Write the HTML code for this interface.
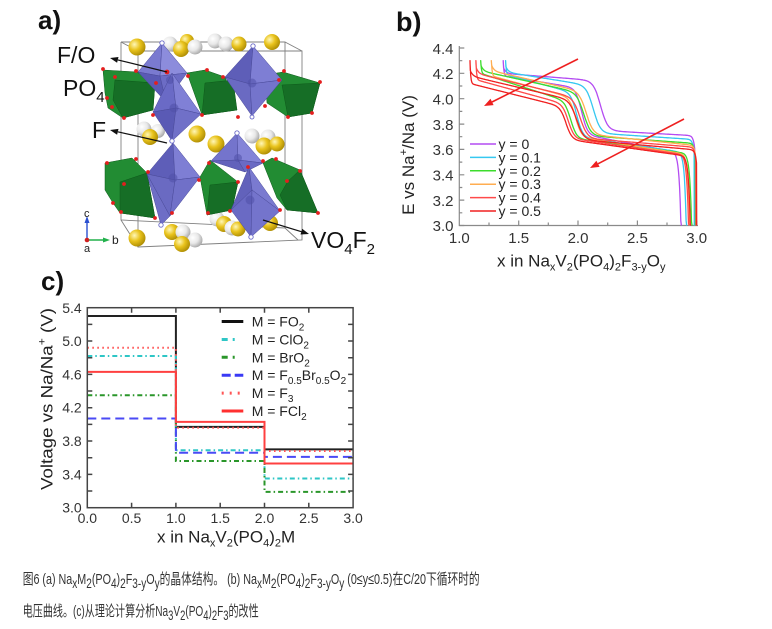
<!DOCTYPE html>
<html><head><meta charset="utf-8"><style>
html,body{margin:0;padding:0;background:#fff;}
svg{display:block;font-family:"Liberation Sans","Noto Sans CJK SC",sans-serif;}
</style></head><body>
<svg width="772" height="629" viewBox="0 0 772 629" xmlns="http://www.w3.org/2000/svg">
<defs>
<radialGradient id="gy" cx="0.35" cy="0.35" r="0.75"><stop offset="0" stop-color="#fff7b8"/><stop offset="0.45" stop-color="#e9c31c"/><stop offset="1" stop-color="#a48400"/></radialGradient>
<radialGradient id="gw" cx="0.35" cy="0.35" r="0.75"><stop offset="0" stop-color="#ffffff"/><stop offset="0.5" stop-color="#e8e8e8"/><stop offset="1" stop-color="#9c9c9c"/></radialGradient>
</defs>
<rect width="772" height="629" fill="#fff"/>

<!-- ========== PANEL A ========== -->
<text x="38" y="29" font-size="26" font-weight="bold" fill="#111">a)</text>
<g stroke="#808080" stroke-width="0.9" fill="none">
<path d="M121,42 H285 V228 M121,42 V220 L285,228"/>
<path d="M138,51 H302 V240 L138,247 Z"/>
<path d="M121,42 L138,51 M285,42 L302,51 M121,220 L138,247 M285,228 L298,240"/>
</g>
<g>
<circle cx="137" cy="47" r="8.5" fill="url(#gy)"/>
<circle cx="170" cy="44" r="7.5" fill="url(#gw)"/>
<circle cx="187" cy="41" r="7" fill="url(#gy)"/>
<circle cx="181" cy="49" r="8" fill="url(#gy)"/>
<circle cx="195" cy="47" r="7.5" fill="url(#gw)"/>
<circle cx="215" cy="41" r="7.5" fill="url(#gw)"/>
<circle cx="226" cy="44" r="7.5" fill="url(#gw)"/>
<circle cx="239" cy="44" r="7.5" fill="url(#gy)"/>
<circle cx="272" cy="42" r="8" fill="url(#gy)"/>
<circle cx="144" cy="129" r="7.5" fill="url(#gw)"/>
<circle cx="158" cy="131" r="7" fill="url(#gw)"/>
<circle cx="150" cy="137" r="8" fill="url(#gy)"/>
<circle cx="197" cy="134" r="8.5" fill="url(#gy)"/>
<circle cx="216" cy="144" r="8.5" fill="url(#gy)"/>
<circle cx="252" cy="136" r="7.5" fill="url(#gw)"/>
<circle cx="268" cy="137" r="7.5" fill="url(#gw)"/>
<circle cx="264" cy="146" r="8.5" fill="url(#gy)"/>
<circle cx="277" cy="144" r="7.5" fill="url(#gy)"/>
<circle cx="217" cy="219" r="7.5" fill="url(#gw)"/>
<circle cx="224" cy="224" r="8" fill="url(#gy)"/>
<circle cx="232" cy="228" r="7.5" fill="url(#gw)"/>
<circle cx="238" cy="229" r="7.5" fill="url(#gy)"/>
<circle cx="270" cy="223" r="8" fill="url(#gy)"/>
<circle cx="172" cy="232" r="8" fill="url(#gy)"/>
<circle cx="183" cy="232" r="7.5" fill="url(#gw)"/>
<circle cx="195" cy="240" r="7.5" fill="url(#gw)"/>
<circle cx="182" cy="244" r="8" fill="url(#gy)"/>
<circle cx="137" cy="238" r="8.5" fill="url(#gy)"/>
</g>
<g stroke="#0d5a1a" stroke-width="0.5">
<polygon points="103,70 137,72 155,83 153,110 123,118 108,108 105,93" fill="#228c33"/>
<polygon points="115,80 155,83 153,110 123,118 113,100" fill="#166e26"/>
<polygon points="187,73 205,70 225,77 237,110 202,115" fill="#228c33"/>
<polygon points="205,83 233,80 237,110 202,115" fill="#166e26"/>
<polygon points="265,75 283,72 320,83 312,113 288,117 267,103" fill="#228c33"/>
<polygon points="282,85 320,83 312,113 288,117" fill="#166e26"/>
<polygon points="105,163 132,158 147,173 155,218 120,213 113,203 105,190" fill="#228c33"/>
<polygon points="120,182 147,173 155,218 120,213" fill="#166e26"/>
<polygon points="200,177 210,160 238,182 232,210 207,215" fill="#228c33"/>
<polygon points="210,185 238,182 232,210 207,215" fill="#166e26"/>
<polygon points="263,163 272,158 300,170 318,213 287,210 277,198" fill="#228c33"/>
<polygon points="288,181 300,170 318,213 287,210 280,195" fill="#166e26"/>
</g>
<g stroke="#4a4a9a" stroke-width="0.5">
<g><polygon points="162,43 138,72 160,76" fill="#7a7ad0"/><polygon points="162,43 160,76 187,73" fill="#8c8cdc"/><polygon points="138,72 166,102 160,76" fill="#5a5ab5"/><polygon points="160,76 187,73 166,102" fill="#6c6cc5"/></g>
<g><polygon points="172,73 153,112 176,108" fill="#6a6ac6"/><polygon points="172,73 176,108 201,114" fill="#8080d6"/><polygon points="153,112 172,141 176,108" fill="#5a5ab5"/><polygon points="176,108 201,114 172,141" fill="#7070c8"/></g>
<g><polygon points="253,46 225,77 250,84" fill="#5e5eb8"/><polygon points="253,46 250,84 282,80" fill="#7e7ed4"/><polygon points="225,77 252,116 250,84" fill="#6a6ac2"/><polygon points="250,84 282,80 252,116" fill="#7474cc"/></g>
<g><polygon points="237,133 211,161 238,160" fill="#7474cc"/><polygon points="237,133 238,160 263,163" fill="#8484d8"/><polygon points="211,161 245,172 238,160" fill="#6262bb"/><polygon points="238,160 263,163 245,172" fill="#6a6ac4"/></g>
<g><polygon points="147,174 161,225 170,216" fill="#6e6ec6"/><polygon points="173,143 147,174 175,180" fill="#5e5eb8"/><polygon points="173,143 175,180 200,177" fill="#7e7ed4"/><polygon points="147,174 170,216 175,180" fill="#6a6ac2"/><polygon points="175,180 200,177 170,216" fill="#7070c8"/></g>
<g><polygon points="249,167 231,210 252,190" fill="#6262bb"/><polygon points="249,167 252,190 280,211" fill="#7a7ad0"/><polygon points="231,210 251,237 252,190" fill="#6a6ac4"/><polygon points="252,190 280,211 251,237" fill="#7474cc"/></g>
</g>
<g fill="#5050a8" opacity="0.55">
<circle cx="170" cy="80" r="4"/><circle cx="174" cy="108" r="4.5"/><circle cx="252" cy="83" r="4.5"/><circle cx="238" cy="158" r="4"/><circle cx="173" cy="178" r="4.5"/><circle cx="250" cy="200" r="4.5"/>
</g>
<g fill="#e41e1e">
<circle cx="103" cy="69" r="1.9"/><circle cx="115" cy="77" r="1.9"/><circle cx="136" cy="71" r="1.9"/><circle cx="156" cy="83" r="1.9"/><circle cx="188" cy="76" r="1.9"/><circle cx="207" cy="70" r="1.9"/><circle cx="223" cy="77" r="1.9"/><circle cx="107" cy="98" r="1.9"/><circle cx="112" cy="107" r="1.9"/><circle cx="124" cy="118" r="1.9"/><circle cx="153" cy="115" r="1.9"/><circle cx="202" cy="115" r="1.9"/><circle cx="238" cy="117" r="1.9"/><circle cx="265" cy="106" r="1.9"/><circle cx="279" cy="80" r="1.9"/><circle cx="284" cy="71" r="1.9"/><circle cx="320" cy="82" r="1.9"/><circle cx="288" cy="117" r="1.9"/><circle cx="312" cy="113" r="1.9"/><circle cx="167" cy="72" r="2.4"/>
<circle cx="107" cy="163" r="1.9"/><circle cx="136" cy="159" r="1.9"/><circle cx="148" cy="172" r="1.9"/><circle cx="124" cy="184" r="1.9"/><circle cx="113" cy="203" r="1.9"/><circle cx="121" cy="212" r="1.9"/><circle cx="155" cy="218" r="1.9"/><circle cx="172" cy="213" r="1.9"/><circle cx="199" cy="180" r="1.9"/><circle cx="209" cy="163" r="1.9"/><circle cx="238" cy="182" r="1.9"/><circle cx="208" cy="213" r="1.9"/><circle cx="230" cy="211" r="1.9"/><circle cx="248" cy="167" r="1.9"/><circle cx="263" cy="161" r="1.9"/><circle cx="276" cy="159" r="1.9"/><circle cx="287" cy="181" r="1.9"/><circle cx="300" cy="171" r="1.9"/><circle cx="318" cy="213" r="1.9"/><circle cx="280" cy="210" r="1.9"/>
</g>
<g fill="#fff" stroke="#6a6ac8" stroke-width="0.9">
<circle cx="162" cy="43" r="2.2"/><circle cx="253" cy="46" r="2.2"/><circle cx="172" cy="141" r="2.2"/><circle cx="237" cy="133" r="2.2"/><circle cx="161" cy="225" r="2.2"/><circle cx="251" cy="237" r="2.2"/><circle cx="252" cy="117" r="2"/>
</g>
<line x1="87" y1="240" x2="87" y2="222" stroke="#2a4fd0" stroke-width="1.4"/>
<polygon points="87,216 84.5,223 89.5,223" fill="#2a4fd0"/>
<line x1="87" y1="240" x2="105" y2="240" stroke="#22b14c" stroke-width="1.4"/>
<polygon points="110,240 103,237.5 103,242.5" fill="#22b14c"/>
<circle cx="87" cy="240" r="2.3" fill="#d02020"/>
<text x="84" y="217" font-size="11" fill="#222">c</text>
<text x="112" y="244" font-size="12" fill="#222">b</text>
<text x="84" y="252" font-size="11" fill="#222">a</text>
<g stroke="#111" stroke-width="1.2"><line x1="167" y1="72" x2="117.8" y2="59.9"/><line x1="167" y1="143" x2="117.8" y2="131.8"/><line x1="263" y1="220" x2="301.4" y2="231.7"/></g>
<g fill="#111"><polygon points="110,58 118.5,57 117.1,62.8"/><polygon points="110,130 118.5,128.9 117.1,134.7"/><polygon points="309,234 300.5,234.5 302.2,228.8"/></g>
<g font-size="23" fill="#111">
<text x="57" y="63">F/O</text>
<text x="63" y="96">PO<tspan font-size="15" dy="6">4</tspan></text>
<text x="92" y="138">F</text>
<text x="311" y="248">VO<tspan font-size="15" dy="6">4</tspan><tspan dy="-6">F</tspan><tspan font-size="15" dy="6">2</tspan></text>
</g>

<!-- ========== PANEL B ========== -->
<text x="396" y="31" font-size="27" font-weight="bold" fill="#111">b)</text>
<g stroke="#8a8a8a" stroke-width="1.2" fill="none">
<path d="M459.3,46 V225.5 H698"/>
<path d="M459.3,225.5 h5 M459.3,200.1 h5 M459.3,174.8 h5 M459.3,149.4 h5 M459.3,124.1 h5 M459.3,98.7 h5 M459.3,73.3 h5 M459.3,48 h5"/>
<path d="M459.3,212.8 h3 M459.3,187.5 h3 M459.3,162.1 h3 M459.3,136.7 h3 M459.3,111.4 h3 M459.3,86 h3 M459.3,60.7 h3"/>
<path d="M518.7,225.5 v-5 M578,225.5 v-5 M637.4,225.5 v-5 M696.7,225.5 v-5 M489,225.5 v-3 M548.3,225.5 v-3 M607.7,225.5 v-3 M667,225.5 v-3"/>
</g>
<g font-size="15" fill="#333" text-anchor="end">
<text x="453.5" y="54">4.4</text><text x="453.5" y="79">4.2</text><text x="453.5" y="104.5">4.0</text><text x="453.5" y="130">3.8</text><text x="453.5" y="155">3.6</text><text x="453.5" y="180.5">3.4</text><text x="453.5" y="206">3.2</text><text x="453.5" y="231">3.0</text>
</g>
<g font-size="15" fill="#333" text-anchor="middle">
<text x="459.3" y="243">1.0</text><text x="518.7" y="243">1.5</text><text x="578" y="243">2.0</text><text x="637.4" y="243">2.5</text><text x="696.7" y="243">3.0</text>
</g>
<text transform="translate(408,155) rotate(-90)" x="0" y="6" font-size="17" fill="#222" text-anchor="middle">E vs Na<tspan font-size="11" dy="-7">+</tspan><tspan dy="7">/Na (V)</tspan></text>
<text x="497" y="266.5" font-size="17" fill="#222">x in Na<tspan font-size="11" dy="4">x</tspan><tspan dy="-4">V</tspan><tspan font-size="11" dy="4">2</tspan><tspan dy="-4">(PO</tspan><tspan font-size="11" dy="4">4</tspan><tspan dy="-4">)</tspan><tspan font-size="11" dy="4">2</tspan><tspan dy="-4">F</tspan><tspan font-size="11" dy="4">3-y</tspan><tspan dy="-4">O</tspan><tspan font-size="11" dy="4">y</tspan></text>
<g id="curves" fill="none" stroke-width="1.3" stroke-linejoin="round"></g>
<g stroke-width="1.5">
<line x1="470" y1="144" x2="496" y2="144" stroke="#b44cf2"/>
<line x1="470" y1="157.4" x2="496" y2="157.4" stroke="#35c8f0"/>
<line x1="470" y1="170.8" x2="496" y2="170.8" stroke="#3cdc2c"/>
<line x1="470" y1="184.2" x2="496" y2="184.2" stroke="#ffad50"/>
<line x1="470" y1="197.6" x2="496" y2="197.6" stroke="#ff4a4a"/>
<line x1="470" y1="211" x2="496" y2="211" stroke="#f02020"/>
</g>
<g font-size="14" fill="#222">
<text x="498.5" y="149">y = 0</text><text x="498.5" y="162.4">y = 0.1</text><text x="498.5" y="175.8">y = 0.2</text><text x="498.5" y="189.2">y = 0.3</text><text x="498.5" y="202.6">y = 0.4</text><text x="498.5" y="216">y = 0.5</text>
</g>
<g stroke="#ee2020" stroke-width="1.6"><line x1="578" y1="59" x2="492" y2="102"/><line x1="684" y1="119" x2="598" y2="163.8"/></g>
<g fill="#ee2020"><polygon points="484,106 493.6,105.1 490.5,98.8"/><polygon points="590,168 599.6,166.9 596.4,160.7"/></g>

<!-- ========== PANEL C ========== -->
<text x="41" y="290" font-size="26" font-weight="bold" fill="#111">c)</text>
<g font-size="14" fill="#333" text-anchor="end">
<text x="81.7" y="313">5.4</text><text x="81.7" y="346">5.0</text><text x="81.7" y="379.4">4.6</text><text x="81.7" y="412.7">4.2</text><text x="81.7" y="446">3.8</text><text x="81.7" y="479.4">3.4</text><text x="81.7" y="512.7">3.0</text>
</g>
<g font-size="14" fill="#333" text-anchor="middle">
<text x="87.3" y="523">0.0</text><text x="131.6" y="523">0.5</text><text x="175.9" y="523">1.0</text><text x="220.2" y="523">1.5</text><text x="264.5" y="523">2.0</text><text x="308.8" y="523">2.5</text><text x="353.1" y="523">3.0</text>
</g>
<text transform="translate(46.7,399) rotate(-90)" x="0" y="6" font-size="17" fill="#222" text-anchor="middle" textLength="182" lengthAdjust="spacingAndGlyphs">Voltage vs Na/Na<tspan font-size="11" dy="-7">+</tspan><tspan dy="7"> (V)</tspan></text>
<text x="157" y="542.5" font-size="17" fill="#222">x in Na<tspan font-size="11" dy="4">x</tspan><tspan dy="-4">V</tspan><tspan font-size="11" dy="4">2</tspan><tspan dy="-4">(PO</tspan><tspan font-size="11" dy="4">4</tspan><tspan dy="-4">)</tspan><tspan font-size="11" dy="4">2</tspan><tspan dy="-4">M</tspan></text>
<g fill="none" stroke-width="2">
<path d="M87.3,316 H175.9 V426.9 H264.5 V449.4 H353.1" stroke="#222"/>
<path d="M87.3,356 H175.9 V450.2 H264.5 V478.5 H353.1" stroke="#2ec6c6" stroke-dasharray="5,3,1.5,3"/>
<path d="M87.3,395.2 H175.9 V461 H264.5 V491.9 H353.1" stroke="#2a962a" stroke-dasharray="5,3,1.5,3"/>
<path d="M87.3,418.5 H175.9 V452.7 H264.5 V456.9 H353.1" stroke="#4a4af5" stroke-dasharray="9,5"/>
<path d="M87.3,347.7 H175.9 V427.7 H264.5 V451 H353.1" stroke="#ff5555" stroke-dasharray="1.6,3.4"/>
<path d="M87.3,371.9 H175.9 V421.9 H264.5 V463.5 H353.1" stroke="#ff4040"/>
</g>
<g stroke="#444" stroke-width="1.5" fill="none">
<rect x="87.3" y="307.7" width="265.8" height="200"/>
<path d="M131.6,507.7 v-5 M175.9,507.7 v-5 M220.2,507.7 v-5 M264.5,507.7 v-5 M308.8,507.7 v-5 M131.6,307.7 v5 M175.9,307.7 v5 M220.2,307.7 v5 M264.5,307.7 v5 M308.8,307.7 v5"/>
<path d="M87.3,491 h5 M87.3,474.4 h5 M87.3,457.7 h5 M87.3,441 h5 M87.3,424.4 h5 M87.3,407.7 h5 M87.3,391 h5 M87.3,374.4 h5 M87.3,357.7 h5 M87.3,341 h5 M87.3,324.4 h5"/>
<path d="M353.1,491 h-5 M353.1,474.4 h-5 M353.1,457.7 h-5 M353.1,441 h-5 M353.1,424.4 h-5 M353.1,407.7 h-5 M353.1,391 h-5 M353.1,374.4 h-5 M353.1,357.7 h-5 M353.1,341 h-5 M353.1,324.4 h-5"/>
</g>
<g stroke-width="3" fill="none">
<line x1="221.7" y1="321.5" x2="243.3" y2="321.5" stroke="#111"/>
<line x1="221.7" y1="339.5" x2="243.3" y2="339.5" stroke="#2ec6c6" stroke-dasharray="6,5,2,20"/>
<line x1="221.7" y1="357.3" x2="243.3" y2="357.3" stroke="#2a962a" stroke-dasharray="6,5,2,20"/>
<line x1="221.7" y1="375.2" x2="243.3" y2="375.2" stroke="#3a3af5" stroke-dasharray="9,4"/>
<line x1="221.7" y1="393.1" x2="243.3" y2="393.1" stroke="#ff5555" stroke-dasharray="2,6"/>
<line x1="221.7" y1="411" x2="243.3" y2="411" stroke="#ff3030"/>
</g>
<g font-size="14" fill="#222">
<text x="251.7" y="326.5">M = FO<tspan font-size="10" dy="4">2</tspan></text>
<text x="251.7" y="344.5">M = ClO<tspan font-size="10" dy="4">2</tspan></text>
<text x="251.7" y="362.3">M = BrO<tspan font-size="10" dy="4">2</tspan></text>
<text x="251.7" y="380.2">M = F<tspan font-size="10" dy="4">0.5</tspan><tspan dy="-4">Br</tspan><tspan font-size="10" dy="4">0.5</tspan><tspan dy="-4">O</tspan><tspan font-size="10" dy="4">2</tspan></text>
<text x="251.7" y="398.1">M = F<tspan font-size="10" dy="4">3</tspan></text>
<text x="251.7" y="416">M = FCl<tspan font-size="10" dy="4">2</tspan></text>
</g>

<!-- ========== CAPTION ========== -->
<g font-size="15" fill="#333">
<text x="22.7" y="584" textLength="457" lengthAdjust="spacingAndGlyphs">图6 (a) Na<tspan font-size="14" dy="4">x</tspan><tspan dy="-4">M</tspan><tspan font-size="14" dy="4">2</tspan><tspan dy="-4">(PO</tspan><tspan font-size="14" dy="4">4</tspan><tspan dy="-4">)</tspan><tspan font-size="14" dy="4">2</tspan><tspan dy="-4">F</tspan><tspan font-size="14" dy="4">3-y</tspan><tspan dy="-4">O</tspan><tspan font-size="14" dy="4">y</tspan><tspan dy="-4">的晶体结构。 (b) Na</tspan><tspan font-size="14" dy="4">x</tspan><tspan dy="-4">M</tspan><tspan font-size="14" dy="4">2</tspan><tspan dy="-4">(PO</tspan><tspan font-size="14" dy="4">4</tspan><tspan dy="-4">)</tspan><tspan font-size="14" dy="4">2</tspan><tspan dy="-4">F</tspan><tspan font-size="14" dy="4">3-y</tspan><tspan dy="-4">O</tspan><tspan font-size="14" dy="4">y</tspan><tspan dy="-4"> (0≤y≤0.5)在C/20下循环时的</tspan></text>
<text x="22.7" y="616" textLength="236" lengthAdjust="spacingAndGlyphs">电压曲线。(c)从理论计算分析Na<tspan font-size="14" dy="4">3</tspan><tspan dy="-4">V</tspan><tspan font-size="14" dy="4">2</tspan><tspan dy="-4">(PO</tspan><tspan font-size="14" dy="4">4</tspan><tspan dy="-4">)</tspan><tspan font-size="14" dy="4">2</tspan><tspan dy="-4">F</tspan><tspan font-size="14" dy="4">3</tspan><tspan dy="-4">的改性</tspan></text>
</g>
</svg>
<script>
(function(){
var PX=function(x){return 459.3+(x-1)*118.7;}, PY=function(v){return 225.5-(v-3)*126.8;};
function lin(x,x0,v0,x1,v1){return v0+(v1-v0)*(x-x0)/(x1-x0);}
function sg(z){return 1/(1+Math.exp(z));}
var S=[
{c:'#b44cf2',xe:1.37,xs:2.985,xd:2.87,c1a:3.71,c1b:3.75,xsc:2.19,c2a:4.14,c2b:4.20,d2a:4.18,d2b:4.08,xsd:2.03,d1a:3.72,d1b:3.58},
{c:'#35c8f0',xe:1.39,xs:2.98,xd:2.915,c1a:3.68,c1b:3.73,xsc:2.13,c2a:4.10,c2b:4.21,d2a:4.19,d2b:4.04,xsd:1.99,d1a:3.70,d1b:3.58},
{c:'#3cdc2c',xe:1.18,xs:2.99,xd:2.96,c1a:3.65,c1b:3.71,xsc:2.05,c2a:4.04,c2b:4.22,d2a:4.20,d2b:3.97,xsd:1.94,d1a:3.69,d1b:3.57},
{c:'#ffad50',xe:1.27,xs:2.995,xd:2.945,c1a:3.635,c1b:3.72,xsc:2.07,c2a:4.05,c2b:4.22,d2a:4.18,d2b:4.00,xsd:1.98,d1a:3.70,d1b:3.565},
{c:'#ff4a4a',xe:1.14,xs:2.995,xd:2.935,c1a:3.62,c1b:3.69,xsc:2.02,c2a:4.00,c2b:4.20,d2a:4.15,d2b:3.95,xsd:1.92,d1a:3.69,d1b:3.56},
{c:'#f02020',xe:1.09,xs:3.0,xd:2.95,c1a:3.60,c1b:3.68,xsc:1.99,c2a:3.98,c2b:4.18,d2a:4.12,d2b:3.93,xsd:1.90,d1a:3.68,d1b:3.55}
];
var g=document.getElementById('curves');
S.forEach(function(s){
  var p=[[s.xs,3.0]], x, lo, hi, v;
  for(x=s.xs-0.002;x>=s.xe;x-=0.005){
    lo=lin(x,2.95,s.c1a,s.xsc,s.c1b);
    hi=lin(x,s.xsc,s.c2a,s.xe,s.c2b);
    v=lo+(hi-lo)*sg((x-s.xsc)/0.03);
    v-=0.12*Math.exp(-(s.xs-x)/0.012);
    v+=0.05*Math.exp(-(x-s.xe)/0.02);
    p.push([x,v]);
  }
  p.push([s.xe,4.3]);
  for(x=s.xe+0.001;x<=s.xd+0.01;x+=0.005){
    hi=lin(x,s.xe,s.d2a,s.xsd,s.d2b);
    lo=lin(x,s.xsd,s.d1a,s.xd-0.05,s.d1b);
    v=lo+(hi-lo)*sg((x-s.xsd)/0.025);
    v+=(4.3-s.d2a)*Math.exp(-(x-s.xe)/0.006);
    v-=0.7*Math.exp((x-s.xd)/0.015);
    if(v<=3){p.push([x,3]);break;}
    p.push([x,v]);
  }
  var d='M'+p.map(function(q){return PX(q[0]).toFixed(1)+','+PY(q[1]).toFixed(1);}).join(' L');
  var el=document.createElementNS('http://www.w3.org/2000/svg','path');
  el.setAttribute('d',d);el.setAttribute('stroke',s.c);
  g.appendChild(el);
});
})();
</script>
</body></html>
